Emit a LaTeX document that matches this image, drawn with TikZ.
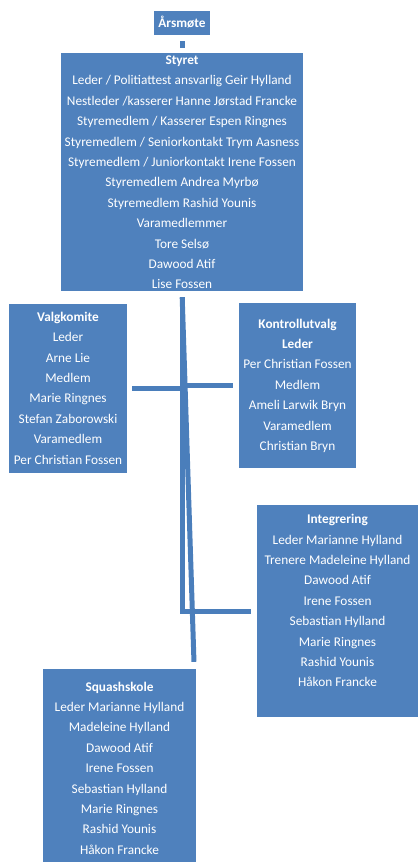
\documentclass[tikz,border=0pt]{standalone}
\usepackage{fontspec}
\setmainfont{Carlito}
\usetikzlibrary{calc}
\definecolor{boxblue}{HTML}{4F81BD}
\definecolor{lineblue}{HTML}{4A7EBB}
\newcommand\rw{\rule[-5.6pt]{0pt}{19.6pt}}
\tikzset{
  box/.style={fill=boxblue, draw=none, inner sep=0pt},
  txt/.style={text=white, align=center, inner sep=0pt, font=\fontsize{13.3}{20.4}\selectfont},
  conn/.style={draw=lineblue, line width=5pt}
}
\begin{document}
\begin{tikzpicture}[x=1pt,y=-1pt]
\useasboundingbox (0,0) rectangle (420,862);
% boxes
\node[box, minimum width=56pt, minimum height=24pt] (arsmote) at (182,23) {};
\node[box, minimum width=242pt, minimum height=238pt] (styret) at (182,172) {};
\node[box, minimum width=118pt, minimum height=169pt] (valg) at (68,388.5) {};
\node[box, minimum width=117pt, minimum height=165pt] (kontroll) at (297.5,385.5) {};
\node[box, minimum width=161pt, minimum height=212pt] (integ) at (337.5,611) {};
\node[box, minimum width=153pt, minimum height=193pt] (squash) at (119.5,765.5) {};
% texts
\node[txt] (arsmoteT) at (182,23) {\rw\textbf{Årsmøte}};
\node[txt] (styretT) at (182,172.5) {\rw\textbf{Styret}\\
\rw Leder / Politiattest ansvarlig Geir Hylland\\
\rw Nestleder /kasserer Hanne Jørstad Francke\\
\rw Styremedlem / Kasserer Espen Ringnes\\
\rw Styremedlem / Seniorkontakt Trym Aasness\\
\rw Styremedlem / Juniorkontakt Irene Fossen\\
\rw Styremedlem Andrea Myrbø\\
\rw Styremedlem Rashid Younis\\
\rw Varamedlemmer\\
\rw Tore Selsø\\
\rw Dawood Atif\\
\rw Lise Fossen};
\node[txt] (valgT) at (68,388.5) {\rw\textbf{Valgkomite}\\
\rw Leder\\
\rw Arne Lie\\
\rw Medlem\\
\rw Marie Ringnes\\
\rw Stefan Zaborowski\\
\rw Varamedlem\\
\rw Per Christian Fossen};
\node[txt] (kontrollT) at (297.5,385) {\rw\textbf{Kontrollutvalg}\\
\rw\textbf{Leder}\\
\rw Per Christian Fossen\\
\rw Medlem\\
\rw Ameli Larwik Bryn\\
\rw Varamedlem\\
\rw Christian Bryn};
\node[txt] (integT) at (337.5,601) {\rw\textbf{Integrering}\\
\rw Leder Marianne Hylland\\
\rw Trenere Madeleine Hylland\\
\rw Dawood Atif\\
\rw Irene Fossen\\
\rw Sebastian Hylland\\
\rw Marie Ringnes\\
\rw Rashid Younis\\
\rw Håkon Francke};
\node[txt] (squashT) at (119.5,768.5) {\rw\textbf{Squashskole}\\
\rw Leder Marianne Hylland\\
\rw Madeleine Hylland\\
\rw Dawood Atif\\
\rw Irene Fossen\\
\rw Sebastian Hylland\\
\rw Marie Ringnes\\
\rw Rashid Younis\\
\rw Håkon Francke};
% connectors
\draw[conn, shorten <=6pt, shorten >=5pt] (arsmote.south) -- (styret.north);
\draw[conn, shorten <=6pt, shorten >=6pt] (styret.south) |- (integ.west);
\draw[conn, shorten <=6pt, shorten >=7pt] (styret.south) -- ($(squash.north east)+(-2,0)$);
\draw[conn, shorten <=5pt] (valg.east) -- (valg.east -| styret.south);
\draw[conn, shorten <=6pt] (kontroll.west) -- (kontroll.west -| styret.south);
\end{tikzpicture}
\end{document}
